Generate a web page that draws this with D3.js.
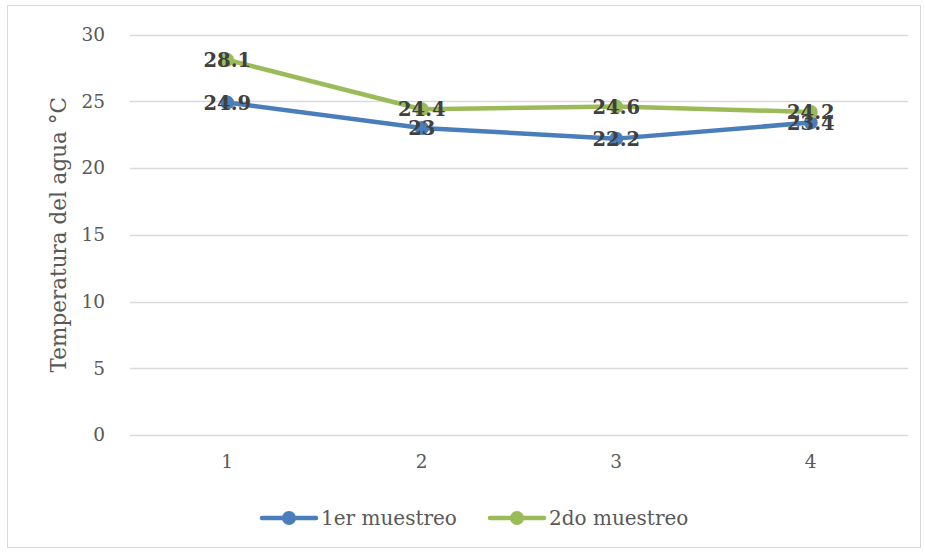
<!DOCTYPE html>
<html>
<head>
<meta charset="utf-8">
<script src="https://cdn.jsdelivr.net/npm/d3@7"></script>
<style>
  body { margin: 0; background: #fff; }
  text { font-family: "DejaVu Serif", "Liberation Serif", serif; }
</style>
</head>
<body>
<div id="chart"></div>
<script>
const muestras = ['1', '2', '3', '4'];
const muestreo1 = [24.9, 23, 22.2, 23.4];
const muestreo2 = [28.1, 24.4, 24.6, 24.2];
const yTicks = [0, 5, 10, 15, 20, 25, 30];
const seriesNames = ['1er muestreo', '2do muestreo'];
const colors = ['#4a7ebb', '#9bbb59'];

const width = 925, height = 552;
const plot = {left: 130, right: 908, top: 34.5, bottom: 435};

const svg = d3.select('#chart').append('svg')
  .attr('width', width).attr('height', height);

// outer frame
svg.append('rect')
  .attr('x', 7.5).attr('y', 5.5)
  .attr('width', 913).attr('height', 542)
  .attr('fill', '#fff').attr('stroke', '#d9d9d9').attr('stroke-width', 1);

const x = d3.scaleBand().domain(muestras).range([plot.left, plot.right]);
const y = d3.scaleLinear().domain([0, 30]).range([plot.bottom, plot.top]);

// gridlines
svg.append('g').selectAll('line')
  .data(yTicks)
  .enter().append('line')
  .attr('x1', plot.left).attr('x2', plot.right)
  .attr('y1', d => Math.round(y(d)) + 0.5).attr('y2', d => Math.round(y(d)) + 0.5)
  .attr('stroke', '#d9d9d9').attr('stroke-width', 1.5);

// y axis labels
const yAxis = svg.append('g')
  .attr('transform', 'translate(' + (plot.left - 25) + ',0)')
  .call(d3.axisLeft(y).tickValues(yTicks).tickSize(0).tickPadding(0));
yAxis.select('.domain').remove();
yAxis.selectAll('text')
  .attr('font-size', 18.5).attr('fill', '#595959')
  .style('font-family', '"DejaVu Serif", serif');

// x axis labels
const xAxis = svg.append('g')
  .attr('transform', 'translate(0,' + (plot.bottom + 20) + ')')
  .call(d3.axisBottom(x).tickSize(0).tickPadding(0));
xAxis.select('.domain').remove();
xAxis.selectAll('text')
  .attr('font-size', 18.5).attr('fill', '#595959')
  .style('font-family', '"DejaVu Serif", serif');

// axis title
svg.append('text')
  .attr('transform', 'translate(66,' + (plot.top + plot.bottom) / 2 + ') rotate(-90)')
  .attr('text-anchor', 'middle')
  .attr('font-size', 21.5).attr('fill', '#595959')
  .text('Temperatura del agua °C');

const line = d3.line()
  .x((d, i) => x(muestras[i]) + x.bandwidth() / 2)
  .y(d => y(d));

const series = [muestreo1, muestreo2];

series.forEach(function(vals, s) {
  svg.append('path')
    .datum(vals)
    .attr('d', line)
    .attr('fill', 'none')
    .attr('stroke', colors[s])
    .attr('stroke-width', 4.5)
    .attr('stroke-linejoin', 'round')
    .attr('stroke-linecap', 'round');

  svg.append('g').selectAll('circle')
    .data(vals)
    .enter().append('circle')
    .attr('cx', (d, i) => x(muestras[i]) + x.bandwidth() / 2)
    .attr('cy', d => y(d))
    .attr('r', 7)
    .attr('fill', colors[s]);
});

// data labels (drawn on top)
series.forEach(function(vals, s) {
  svg.append('g').selectAll('text')
    .data(vals)
    .enter().append('text')
    .attr('x', (d, i) => x(muestras[i]) + x.bandwidth() / 2)
    .attr('y', d => y(d) + 7)
    .attr('text-anchor', 'middle')
    .attr('font-size', 19.5)
    .attr('font-weight', 'bold')
    .attr('fill', '#404040')
    .text(d => d);
});

// legend
const legendX = [262, 490];
const legend = svg.append('g').selectAll('g')
  .data(seriesNames)
  .enter().append('g')
  .attr('transform', (d, i) => 'translate(' + legendX[i] + ',518)');
legend.append('line')
  .attr('x1', 0).attr('x2', 54).attr('y1', 0).attr('y2', 0)
  .attr('stroke', (d, i) => colors[i]).attr('stroke-width', 4.5)
  .attr('stroke-linecap', 'round');
legend.append('circle')
  .attr('cx', 27).attr('cy', 0).attr('r', 7)
  .attr('fill', (d, i) => colors[i]);
legend.append('text')
  .attr('x', 59).attr('y', 7)
  .attr('font-size', 20).attr('fill', '#595959')
  .text(d => d);
</script>
</body>
</html>
